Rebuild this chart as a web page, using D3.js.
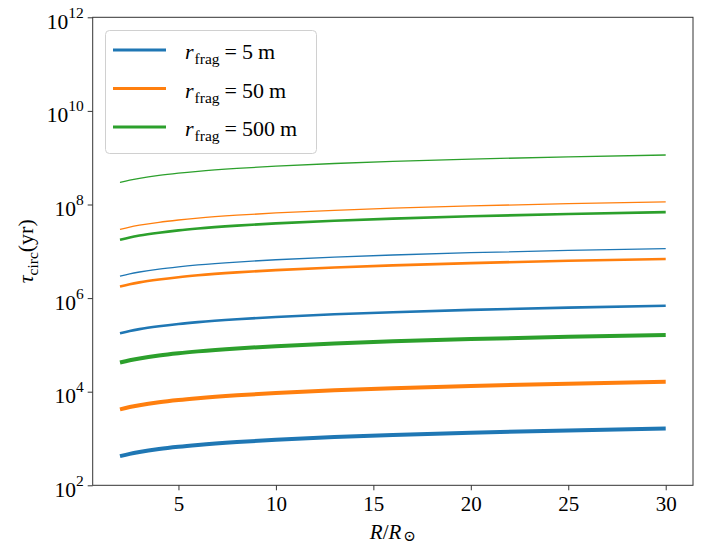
<!DOCTYPE html>
<html>
<head>
<meta charset="utf-8">
<script src="https://cdn.jsdelivr.net/npm/d3@7"></script>
<style>
  body { margin: 0; background: #fff; }
</style>
</head>
<body>
<div id="chart"></div>
<script>
// R / R_sun sample points
const radii = [2, 2.5, 3, 4, 5, 6, 8, 10, 13, 16, 20, 25, 30];

// thick lines
const tauLow5 = [420, 470, 514, 594, 664, 727, 840, 939, 1071, 1188, 1328, 1485, 1630];
const tauLow50 = [4200, 4700, 5140, 5940, 6640, 7270, 8400, 9390, 10700, 11900, 13300, 14850, 16300];
const tauLow500 = [4.2e4, 4.7e4, 5.14e4, 5.94e4, 6.64e4, 7.27e4, 8.4e4, 9.39e4, 1.07e5, 1.19e5, 1.33e5, 1.485e5, 1.63e5];
// medium lines
const tauMid5 = [1.77e5, 1.98e5, 2.17e5, 2.5e5, 2.8e5, 3.07e5, 3.54e5, 3.96e5, 4.51e5, 5.0e5, 5.6e5, 6.26e5, 6.86e5];
const tauMid50 = [1.77e6, 1.98e6, 2.17e6, 2.5e6, 2.8e6, 3.07e6, 3.54e6, 3.96e6, 4.51e6, 5.0e6, 5.6e6, 6.26e6, 6.86e6];
const tauMid500 = [1.77e7, 1.98e7, 2.17e7, 2.5e7, 2.8e7, 3.07e7, 3.54e7, 3.96e7, 4.51e7, 5.0e7, 5.6e7, 6.26e7, 6.86e7];
// thin lines
const tauHigh5 = [2.95e6, 3.3e6, 3.61e6, 4.17e6, 4.66e6, 5.11e6, 5.9e6, 6.6e6, 7.52e6, 8.34e6, 9.33e6, 1.043e7, 1.143e7];
const tauHigh50 = [2.95e7, 3.3e7, 3.61e7, 4.17e7, 4.66e7, 5.11e7, 5.9e7, 6.6e7, 7.52e7, 8.34e7, 9.33e7, 1.043e8, 1.143e8];
const tauHigh500 = [2.95e8, 3.3e8, 3.61e8, 4.17e8, 4.66e8, 5.11e8, 5.9e8, 6.6e8, 7.52e8, 8.34e8, 9.33e8, 1.043e9, 1.143e9];

const xTicks = [5, 10, 15, 20, 25, 30];
const yTickExps = [2, 4, 6, 8, 10, 12];
const legendSizes = ['5', '50', '500'];

const colors = ['#1f77b4', '#ff7f0e', '#2ca02c'];
const serif = "'Liberation Serif', 'Times New Roman', 'DejaVu Serif', serif";

const width = 719, height = 548;
const mLeft = 92.7, mRight = 693, mTop = 17.3, mBottom = 485.3;

const svg = d3.select('#chart').append('svg')
  .attr('width', width)
  .attr('height', height)
  .style('font-family', serif);

const x = d3.scaleLinear().domain([0.6, 31.4]).range([mLeft, mRight]);
const y = d3.scaleLog().domain([1e2, 1e12]).range([mBottom, mTop]);

const line = d3.line()
  .x((d, i) => x(radii[i]))
  .y(d => y(d))
  .curve(d3.curveMonotoneX);

const series = [
  { v: tauLow5, c: 0, w: 4 },
  { v: tauLow50, c: 1, w: 4 },
  { v: tauLow500, c: 2, w: 4 },
  { v: tauMid5, c: 0, w: 2.6 },
  { v: tauMid50, c: 1, w: 2.6 },
  { v: tauMid500, c: 2, w: 2.6 },
  { v: tauHigh5, c: 0, w: 1.3 },
  { v: tauHigh50, c: 1, w: 1.3 },
  { v: tauHigh500, c: 2, w: 1.3 }
];

svg.append('g')
  .selectAll('path')
  .data(series)
  .enter()
  .append('path')
    .attr('d', d => line(d.v))
    .attr('fill', 'none')
    .attr('stroke', d => colors[d.c])
    .attr('stroke-width', d => d.w);

// axes
const xAxis = d3.axisBottom(x).tickValues(xTicks).tickSize(5).tickFormat(d => d);
const gx = svg.append('g').attr('transform', `translate(0,${mBottom})`).call(xAxis);
gx.select('.domain').remove();
gx.selectAll('line').attr('stroke', '#333').attr('stroke-width', 1);
gx.selectAll('text')
  .attr('y', 26)
  .attr('dy', null)
  .attr('fill', '#000')
  .style('font-family', serif)
  .style('font-size', '21px');

const yAxis = d3.axisLeft(y).tickValues(yTickExps.map(e => Math.pow(10, e))).tickSize(5).tickFormat('');
const gy = svg.append('g').attr('transform', `translate(${mLeft},0)`).call(yAxis);
gy.select('.domain').remove();
gy.selectAll('text').remove();
gy.selectAll('line').attr('stroke', '#333').attr('stroke-width', 1);
gy.selectAll('.tick').each(function(d) {
  const e = Math.round(Math.log10(d));
  const t = d3.select(this).append('text')
    .attr('x', -9)
    .attr('y', 11)
    .attr('fill', '#000')
    .attr('text-anchor', 'end')
    .style('font-family', serif)
    .style('font-size', '21.5px');
  t.append('tspan').text('10');
  t.append('tspan').attr('dy', -11).style('font-size', '15.5px').text(e);
});

// frame
svg.append('rect')
  .attr('x', mLeft).attr('y', mTop)
  .attr('width', mRight - mLeft).attr('height', mBottom - mTop)
  .attr('fill', 'none')
  .attr('stroke', '#333')
  .attr('stroke-width', 1);

// axis labels
const xl = svg.append('text')
  .attr('x', (mLeft + mRight) / 2)
  .attr('y', 539)
  .attr('text-anchor', 'middle')
  .style('font-family', serif)
  .style('font-size', '21px');
xl.append('tspan').attr('font-style', 'italic').text('R');
xl.append('tspan').text('/');
xl.append('tspan').attr('font-style', 'italic').text('R');
xl.append('tspan').attr('dx', 2).attr('dy', 2).style('font-size', '15px').text('⊙');

const yl = svg.append('text')
  .attr('transform', `translate(33,${(mTop + mBottom) / 2}) rotate(-90)`)
  .attr('text-anchor', 'middle')
  .style('font-family', serif)
  .style('font-size', '22px');
yl.append('tspan').attr('font-style', 'italic').text('τ');
yl.append('tspan').attr('dy', 5).style('font-size', '15.5px').text('circ');
yl.append('tspan').attr('dy', -5).text('(yr)');

// legend
const lg = svg.append('g');
lg.append('rect')
  .attr('x', 105.5).attr('y', 30.5)
  .attr('width', 211).attr('height', 123)
  .attr('rx', 4)
  .attr('fill', '#fff').attr('fill-opacity', 0.8)
  .attr('stroke', '#d0d0d0');

legendSizes.forEach((s, i) => {
  const ly = 50 + i * 38.5;
  lg.append('line')
    .attr('x1', 113).attr('x2', 166)
    .attr('y1', ly).attr('y2', ly)
    .attr('stroke', colors[i])
    .attr('stroke-width', 3.2);
  const t = lg.append('text')
    .attr('x', 185)
    .attr('y', ly + 9)
    .style('font-family', serif)
    .style('font-size', '22px');
  t.append('tspan').attr('font-style', 'italic').text('r');
  t.append('tspan').attr('dx', 1).attr('dy', 5).style('font-size', '15.5px').text('frag');
  t.append('tspan').attr('dy', -5).attr('dx', 5).text('=');
  t.append('tspan').attr('dx', 5).text(s);
  t.append('tspan').attr('dx', 5).text('m');
});
</script>
</body>
</html>
